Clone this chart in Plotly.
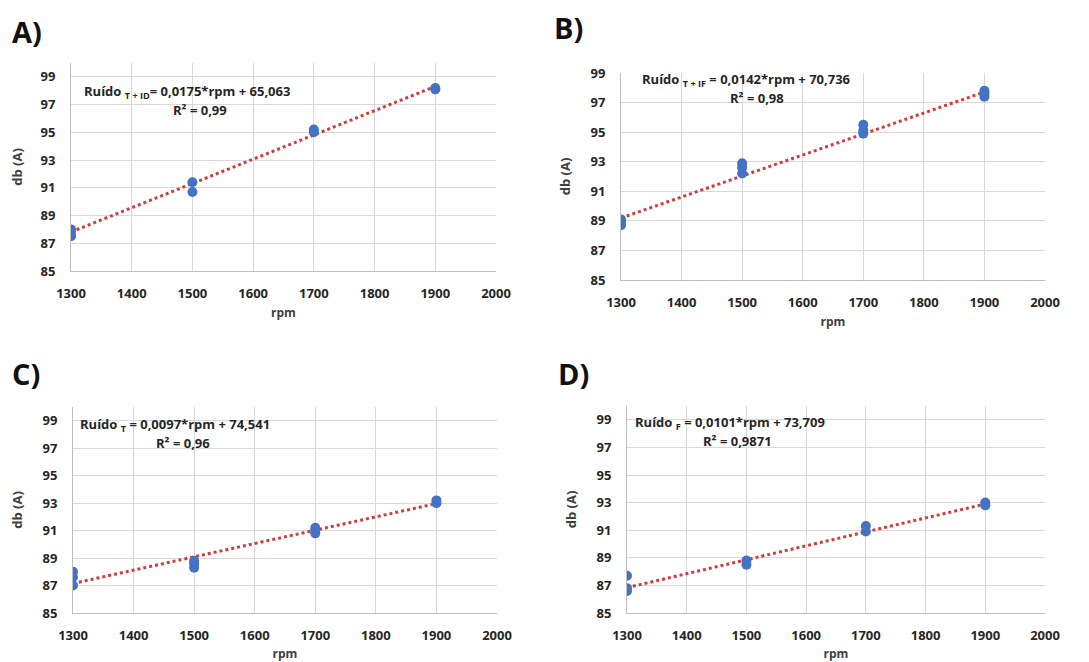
import plotly.graph_objects as go

# the page body adds an 8 px margin, so the figure is drawn 8 px smaller
# and every pixel position below is shifted by that margin
OFF = 8
W, H = 1089 - OFF, 662 - OFF

# ---- data ----
rpm_A = [1300, 1300, 1300, 1500, 1500, 1700, 1700, 1900, 1900]
db_A = [87.5, 87.7, 88.0, 90.7, 91.4, 95.0, 95.2, 98.1, 98.2]
rpm_B = [1300, 1300, 1300, 1500, 1500, 1500, 1700, 1700, 1700, 1900, 1900, 1900]
db_B = [88.7, 88.9, 89.1, 92.2, 92.6, 92.9, 94.9, 95.1, 95.5, 97.4, 97.6, 97.8]
rpm_C = [1300, 1300, 1300, 1500, 1500, 1500, 1700, 1700, 1700, 1900, 1900]
db_C = [87.0, 87.6, 88.0, 88.3, 88.6, 88.8, 90.8, 91.0, 91.2, 93.0, 93.2]
rpm_D = [1300, 1300, 1300, 1500, 1500, 1700, 1700, 1900, 1900]
db_D = [86.6, 86.8, 87.7, 88.5, 88.8, 90.9, 91.3, 92.8, 93.0]

slopes = [0.0175, 0.0142, 0.0097, 0.0101]
intercepts = [65.063, 70.736, 74.541, 73.709]
eq_labels = [
    "Ruído <sub>T + ID</sub>= 0,0175*rpm + 65,063",
    "Ruído <sub>T + IF</sub> = 0,0142*rpm + 70,736",
    "Ruído <sub>T</sub> = 0,0097*rpm + 74,541",
    "Ruído <sub>F</sub> = 0,0101*rpm + 73,709",
]
r2_labels = ["R² = 0,99", "R² = 0,98", "R² = 0,96", "R² = 0,9871"]
panel_labels = ["A)", "B)", "C)", "D)"]
x_ticks = [1300, 1400, 1500, 1600, 1700, 1800, 1900, 2000]
y_ticks = [85, 87, 89, 91, 93, 95, 97, 99]

series = [(rpm_A, db_A), (rpm_B, db_B), (rpm_C, db_C), (rpm_D, db_D)]

# ---- layout (pixel geometry, window coordinates) ----
areas = [(71, 496, 63, 271), (621, 1045, 73, 280), (73, 497, 407, 613), (627, 1045, 406, 613)]
y_max = [100, 99, 100, 100]
eq_pos = [(82, 92), (640, 80), (78, 425), (633, 423)]
r2_pos = [(200, 110), (757, 98), (183, 443), (737, 441)]
lab_pos = [(10, 31), (552, 28), (10, 373), (556, 373)]

def px(x):
    return (x - OFF) / W

def py(y):
    return 1 - (y - OFF) / H

FONT = "Open Sans"
BLUE = "#4472C4"
RED = "#D43A3C"
GRID = "#D9D9D9"

fig = go.Figure()
layout = dict(
    width=W, height=H, margin=dict(l=0, r=0, t=0, b=0, autoexpand=False),
    paper_bgcolor="white", plot_bgcolor="white", showlegend=False,
    font=dict(family=FONT, color="#404040"),
)
annotations = []

for i, ((xs, ys), m, b) in enumerate(zip(series, slopes, intercepts)):
    sfx = "" if i == 0 else str(i + 1)
    xa, ya = "x" + sfx, "y" + sfx
    x0, x1 = min(xs), max(xs)
    fig.add_trace(go.Scatter(
        x=[x0, x1], y=[m * x0 + b, m * x1 + b], mode="lines", xaxis=xa, yaxis=ya,
        line=dict(color=RED, width=3, dash="dot"),
    ))
    fig.add_trace(go.Scatter(
        x=xs, y=ys, mode="markers", xaxis=xa, yaxis=ya,
        marker=dict(color=BLUE, size=10, line=dict(width=0)),
    ))
    l, r, t, btm = areas[i]
    layout["xaxis" + sfx] = dict(
        domain=[px(l), px(r)], anchor=ya, range=[1300, 2000], automargin=False,
        tickvals=x_ticks, showgrid=True, gridcolor=GRID, gridwidth=1,
        zeroline=False, showline=True, linecolor="#BFBFBF", linewidth=1,
        ticks="", ticklabelstandoff=10,
        tickfont=dict(family=FONT, size=13, color="#262626", weight="bold"),
        title=dict(text="rpm", font=dict(family=FONT, size=12, color="#404040", weight="bold"), standoff=8),
        fixedrange=True,
    )
    layout["yaxis" + sfx] = dict(
        domain=[py(btm), py(t)], anchor=xa, range=[85, y_max[i]], automargin=False,
        tickvals=y_ticks, showgrid=True, gridcolor=GRID, gridwidth=1,
        zeroline=False, showline=True, linecolor="#BFBFBF", linewidth=1,
        ticks="", ticklabelstandoff=12,
        tickfont=dict(family=FONT, size=13, color="#262626", weight="bold"),
        title=dict(text="db (A)", font=dict(family=FONT, size=13, color="#404040", weight="bold"), standoff=16),
        fixedrange=True,
    )
    ex, ey = eq_pos[i]
    annotations.append(dict(
        x=px(ex), y=py(ey), xref="paper", yref="paper", xanchor="left", yanchor="middle",
        text="<b>" + eq_labels[i] + "</b>", showarrow=False,
        font=dict(family=FONT, size=13, color="#262626"),
    ))
    rx, ry = r2_pos[i]
    annotations.append(dict(
        x=px(rx), y=py(ry), xref="paper", yref="paper", xanchor="center", yanchor="middle",
        text="<b>" + r2_labels[i] + "</b>", showarrow=False,
        font=dict(family=FONT, size=13, color="#262626"),
    ))
    lx, ly = lab_pos[i]
    annotations.append(dict(
        x=px(lx), y=py(ly), xref="paper", yref="paper", xanchor="left", yanchor="middle",
        text="<b>" + panel_labels[i] + "</b>", showarrow=False,
        font=dict(family=FONT, size=29, color="#111111"),
    ))

layout["annotations"] = annotations
fig.update_layout(**layout)
fig.write_html("out.html")
